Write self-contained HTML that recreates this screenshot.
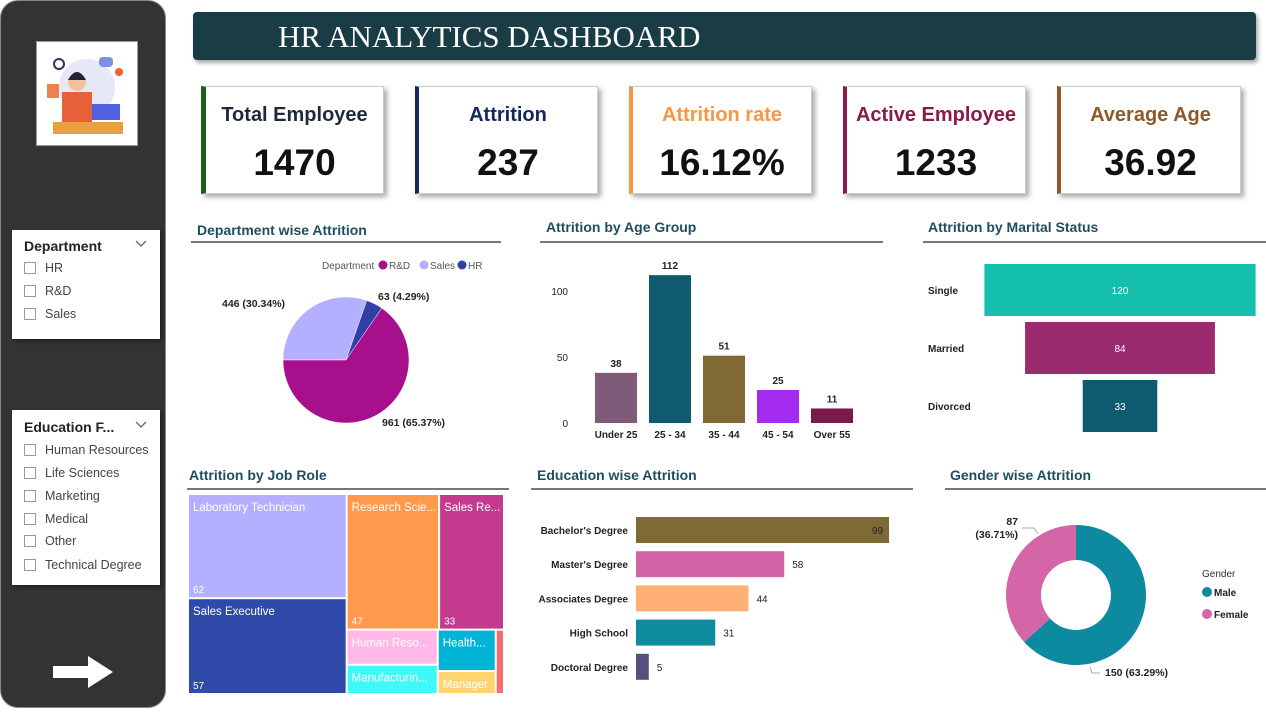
<!DOCTYPE html>
<html><head><meta charset="utf-8">
<style>
*{box-sizing:border-box;margin:0;padding:0}
body{width:1266px;height:712px;background:#fff;font-family:"Liberation Sans",sans-serif;position:relative;overflow:hidden}
.abs{position:absolute}
.side{left:0;top:0;width:166px;height:708px;background:#333;border-radius:18px;border:1px solid #888}
.slicer{background:#fff;box-shadow:2px 2px 4px rgba(0,0,0,.4)}
.slicer .h{position:absolute;left:12px;font-weight:bold;font-size:14px;color:#222}
.item{position:absolute;left:12px;font-size:12.5px;color:#444}
.item i{display:inline-block;width:12px;height:12px;border:1px solid #999;vertical-align:-2px;margin-right:9px}
.card{background:#fff;box-shadow:3px 3px 5px rgba(0,0,0,.35);border:1px solid #ccc;text-align:center}
.card .t{position:absolute;width:100%;top:17px;font-size:20px;font-weight:bold}
.card .v{position:absolute;width:100%;top:55px;font-size:37px;font-weight:bold;color:#111}
.ttl{font-size:14px;font-weight:bold;color:#1f4e5f}
.rule{height:2px;background:#777}
svg text{font-family:"Liberation Sans",sans-serif}
</style></head><body>
<div class="abs side"></div>
<div class="abs" style="left:36px;top:41px;width:102px;height:105px;background:#fff;border:1px solid #999">
<svg width="100" height="103"><circle cx="50" cy="45" r="28" fill="#e6e8f8"/><rect x="16" y="80" width="70" height="12" fill="#e8a040"/><rect x="25" y="50" width="30" height="30" fill="#e8603a"/><circle cx="40" cy="40" r="9" fill="#f2c2a0"/><path d="M31 38 q9-16 18 0" fill="#2a2030"/><rect x="55" y="62" width="28" height="16" fill="#5060e0"/><circle cx="22" cy="22" r="5" fill="none" stroke="#335" stroke-width="2"/><rect x="10" y="42" width="12" height="14" fill="#f08050"/><circle cx="82" cy="30" r="4" fill="#f06030"/><rect x="62" y="15" width="14" height="10" rx="4" fill="#8090e0"/></svg></div>

<div class="abs slicer" style="left:12px;top:230px;width:148px;height:109px">
<div class="h" style="top:8px">Department</div>
<svg class="abs" style="left:123px;top:10px" width="12" height="8"><path d="M1 1 L6 6 L11 1" fill="none" stroke="#666" stroke-width="1.3"/></svg>
<div class="item" style="top:31px"><i></i>HR</div>
<div class="item" style="top:54px"><i></i>R&amp;D</div>
<div class="item" style="top:77px"><i></i>Sales</div>
</div>
<div class="abs slicer" style="left:12px;top:410px;width:148px;height:175px">
<div class="h" style="top:9px">Education F...</div>
<svg class="abs" style="left:123px;top:11px" width="12" height="8"><path d="M1 1 L6 6 L11 1" fill="none" stroke="#666" stroke-width="1.3"/></svg>
<div class="item" style="top:33px"><i></i>Human Resources</div>
<div class="item" style="top:56px"><i></i>Life Sciences</div>
<div class="item" style="top:79px"><i></i>Marketing</div>
<div class="item" style="top:102px"><i></i>Medical</div>
<div class="item" style="top:124px"><i></i>Other</div>
<div class="item" style="top:148px"><i></i>Technical Degree</div>
</div>
<svg class="abs" style="left:52px;top:655px" width="62" height="34"><path d="M1 11 H36 V1 L61 17 L36 33 V23 H1 Z" fill="#fff"/></svg>

<div class="abs" style="left:193px;top:12px;width:1063px;height:48px;background:#1a3c45;border-radius:4px;box-shadow:2px 3px 4px rgba(0,0,0,.35)">
<div style="position:absolute;left:85px;top:7px;font-family:'Liberation Serif',serif;font-size:31px;color:#fff">HR ANALYTICS DASHBOARD</div></div>

<div class="abs card" style="left:201px;top:86px;width:183px;height:108px;border-left:5px solid #1a5e1a"><div class="t" style="color:#1e2a3a">Total Employee</div><div class="v">1470</div></div>
<div class="abs card" style="left:415px;top:86px;width:183px;height:108px;border-left:4px solid #14285c"><div class="t" style="color:#14285c">Attrition</div><div class="v">237</div></div>
<div class="abs card" style="left:629px;top:86px;width:183px;height:108px;border-left:4px solid #f79646"><div class="t" style="color:#f79646">Attrition rate</div><div class="v">16.12%</div></div>
<div class="abs card" style="left:843px;top:86px;width:183px;height:108px;border-left:4px solid #8b1a4a"><div class="t" style="color:#8b1a4a">Active Employee</div><div class="v">1233</div></div>
<div class="abs card" style="left:1057px;top:86px;width:184px;height:108px;border-left:4px solid #8b5a2b"><div class="t" style="color:#8b5a2b">Average Age</div><div class="v">36.92</div></div>

<div class="abs ttl" style="left:197px;top:222px">Department wise Attrition</div>
<div class="abs rule" style="left:191px;top:241px;width:310px"></div>
<div class="abs ttl" style="left:546px;top:219px">Attrition by Age Group</div>
<div class="abs rule" style="left:540px;top:241px;width:343px"></div>
<div class="abs ttl" style="left:928px;top:219px">Attrition by Marital Status</div>
<div class="abs rule" style="left:923px;top:241px;width:343px"></div>
<div class="abs ttl" style="left:189px;top:467px">Attrition by Job Role</div>
<div class="abs rule" style="left:187px;top:488px;width:322px"></div>
<div class="abs ttl" style="left:537px;top:467px">Education wise Attrition</div>
<div class="abs rule" style="left:531px;top:488px;width:382px"></div>
<div class="abs ttl" style="left:950px;top:467px">Gender wise Attrition</div>
<div class="abs rule" style="left:945px;top:488px;width:321px"></div>

<svg class="abs" id="charts" style="left:0;top:0" width="1266" height="712"></svg>

<script>
// Department pie
const deptNames=["Sales","HR","R&D"];
const deptValues=[446,63,961];
const deptLabels=["446 (30.34%)","63 (4.29%)","961 (65.37%)"];
// Age group bars
const ageCats=["Under 25","25 - 34","35 - 44","45 - 54","Over 55"];
const ageValues=[38,112,51,25,11];
const ageTicks=[0,50,100];
// Marital funnel
const maritalCats=["Single","Married","Divorced"];
const maritalValues=[120,84,33];
// Job role treemap
const roleNames=["Laboratory Technician","Sales Executive","Research Scie...","Sales Re...","Human Reso...","Manufacturin...","Health...","Manager",""];
const roleValues=[62,57,47,33,12,10,9,5,2];
// Education bars
const eduCats=["Bachelor's Degree","Master's Degree","Associates Degree","High School","Doctoral Degree"];
const eduValues=[99,58,44,31,5];
// Gender donut
const genderNames=["Male","Female"];
const genderValues=[150,87];

const NS="http://www.w3.org/2000/svg";
const svg=document.getElementById('charts');
function mk(tag,attrs,parent){const e=document.createElementNS(NS,tag);for(const k in attrs)e.setAttribute(k,attrs[k]);(parent||svg).appendChild(e);return e;}
function txt(x,y,s,attrs){const t=mk('text',Object.assign({x:x,y:y},attrs||{}));t.textContent=s;return t;}
function arc(cx,cy,r,r0,a0,a1){const p=(a,rr)=>[cx+rr*Math.sin(a),cy-rr*Math.cos(a)];const L=(a1-a0)>Math.PI?1:0;const[x0,y0]=p(a0,r),[x1,y1]=p(a1,r);
 if(r0===0)return `M${cx},${cy}L${x0},${y0}A${r},${r} 0 ${L} 1 ${x1},${y1}Z`;
 const[x2,y2]=p(a1,r0),[x3,y3]=p(a0,r0);return `M${x0},${y0}A${r},${r} 0 ${L} 1 ${x1},${y1}L${x2},${y2}A${r0},${r0} 0 ${L} 0 ${x3},${y3}Z`;}

// ---- Pie
(function(){
 const cx=346,cy=360,r=63,cols=["#b4b0ff","#3040a8","#a80f8c"];
 const tot=deptValues.reduce((a,b)=>a+b,0);let a=-Math.PI/2;
 txt(322,269,"Department",{'font-size':10,fill:'#555'});
 const lg=[["R&D",'#a80f8c',387],["Sales",'#b4b0ff',428],["HR",'#3040a8',466]];
 lg.forEach(l=>{mk('circle',{cx:l[2]-4,cy:265,r:4.5,fill:l[1]});txt(l[2]+2,269,l[0],{'font-size':10,fill:'#555'});});
 const lpos=[[222,307,'start'],[378,300,'start'],[382,426,'start']];
 deptValues.forEach((v,i)=>{const a1=a+v/tot*2*Math.PI;
  const s=mk('path',{d:arc(cx,cy,r,0,a,a1),fill:cols[i],stroke:'#fff','stroke-width':0.5});
  
  
  const t=txt(lpos[i][0],lpos[i][1],deptLabels[i],{'font-size':10.5,'font-weight':'bold',fill:'#222'});
  
  
  a=a1;});
})();

// ---- Age bars
(function(){
 const base=423,ppu=1.32,x0=595,step=54,w=42,cols=["#7e5a78","#0f5a6e","#7f6a35","#a32cf0","#7a1a4a"];
 ageTicks.forEach(t=>txt(568,base-t*ppu+4,t,{'font-size':10,fill:'#222','text-anchor':'end'}));
 ageValues.forEach((v,i)=>{const x=x0+i*step,h=v*ppu;
  const b=mk('rect',{x:x,y:base-h,width:w,height:h,fill:cols[i]});
  
  
  txt(x+w/2,base-h-6,v,{'font-size':10,'font-weight':'bold',fill:'#222','text-anchor':'middle'});
  txt(x+w/2,438,ageCats[i],{'font-size':10,'font-weight':'bold',fill:'#222','text-anchor':'middle'});});
})();

// ---- Marital funnel
(function(){
 const cx=1120,ppu=2.26,top=264,step=58,h=52,cols=["#14bfae","#9b2a6e","#0f5a6e"];
 maritalValues.forEach((v,i)=>{const w=v*ppu,y=top+i*step;
  const b=mk('rect',{x:cx-w/2,y:y,width:w,height:h,fill:cols[i]});
  
  
  txt(cx,y+h/2+4,v,{'font-size':10,fill:'#fff','text-anchor':'middle'});
  txt(928,y+h/2+4,maritalCats[i],{'font-size':10,'font-weight':'bold',fill:'#222'});});
})();

// ---- Treemap (fixed group structure; sizes from values)
(function(){
 const X=188,Y=494,W=316,H=200,cols=["#b4b0ff","#2f4aa8","#ff9a4d","#c43a8e","#ffb8e8","#40f8f8","#00b4d8","#ffd46e","#f07070"];
 const sum=a=>a.reduce((s,i)=>s+roleValues[i],0);
 const rects=[];
 function slice(idx,x,y,w,h,vert){const t=sum(idx);let o=0;idx.forEach(i=>{const f=roleValues[i]/t;
  if(vert)rects[i]=[x,y+o*h,w,f*h];else rects[i]=[x+o*w,y,f*w,h];o+=f;});}
 const all=[0,1,2,3,4,5,6,7,8];const tot=sum(all);
 const c1=[0,1],rest=[2,3,4,5,6,7,8];
 const w1=sum(c1)/tot*W;slice(c1,X,Y,w1,H,true);
 const RX=X+w1,RW=W-w1,top=[2,3],bot=[4,5,6,7,8];
 const th=sum(top)/sum(rest)*H;slice(top,RX,Y,RW,th,false);
 const BY=Y+th,BH=H-th,bt=sum(bot);const groups=[[4,5],[6,7],[8]];let ox=RX;
 groups.forEach(g=>{const gw=sum(g)/bt*RW;slice(g,ox,BY,gw,BH,true);ox+=gw;});
 roleValues.forEach((v,i)=>{const r=rects[i];
  const b=mk('rect',{x:r[0]+1,y:r[1]+1,width:Math.max(r[2]-2,0),height:Math.max(r[3]-2,0),fill:cols[i]});
  
  
  if(roleNames[i])txt(r[0]+5,r[1]+17,roleNames[i],{'font-size':11.5,fill:'#fff'});
  if(r[3]>70)txt(r[0]+5,r[1]+r[3]-5,v,{'font-size':10,fill:'#fff'});});
})();

// ---- Education bars
(function(){
 const x0=636,ppu=2.556,y0=517,step=34.2,h=26,cols=["#7f6a35","#d464a8","#ffb074","#0f8ca0","#5a4f7c"];
 const max=Math.max(...eduValues);
 eduValues.forEach((v,i)=>{const y=y0+i*step,w=v*ppu;
  const b=mk('rect',{x:x0,y:y,width:w,height:h,fill:cols[i]});
  
  
  txt(628,y+h/2+4,eduCats[i],{'font-size':10,'font-weight':'bold',fill:'#222','text-anchor':'end'});
  if(v===max)txt(x0+w-6,y+h/2+4,v,{'font-size':10,fill:'#222','text-anchor':'end'});
  else txt(x0+w+8,y+h/2+4,v,{'font-size':10,fill:'#222'});});
})();

// ---- Gender donut
(function(){
 const cx=1076,cy=595,r=70,r0=35,cols=["#0e8aa0","#d466a8"];
 const tot=genderValues.reduce((a,b)=>a+b,0);let a=0;
 genderValues.forEach((v,i)=>{const a1=a+v/tot*2*Math.PI;
  const s=mk('path',{d:arc(cx,cy,r,r0,a,a1),fill:cols[i]});
  
  a=a1;});
 const pct=v=>(v/tot*100).toFixed(2)+'%';
 txt(1018,525,genderValues[1],{'font-size':10.5,'font-weight':'bold',fill:'#222','text-anchor':'end'});
 txt(1018,538,'('+pct(genderValues[1])+')',{'font-size':10.5,'font-weight':'bold',fill:'#222','text-anchor':'end'});
 txt(1105,676,genderValues[0]+' ('+pct(genderValues[0])+')',{'font-size':10.5,'font-weight':'bold',fill:'#222'});
 mk('path',{d:'M1022,528 H1034 L1038,534',fill:'none',stroke:'#aaa'});
 mk('path',{d:'M1090,667 L1092,673 H1100',fill:'none',stroke:'#aaa'});
 txt(1202,577,'Gender',{'font-size':10,fill:'#333'});
 genderNames.forEach((g,i)=>{mk('circle',{cx:1207,cy:592+i*22,r:5,fill:cols[i]});
  txt(1214,596+i*22,g,{'font-size':10,'font-weight':'bold',fill:'#222'});});
})();
</script>
</body></html>
